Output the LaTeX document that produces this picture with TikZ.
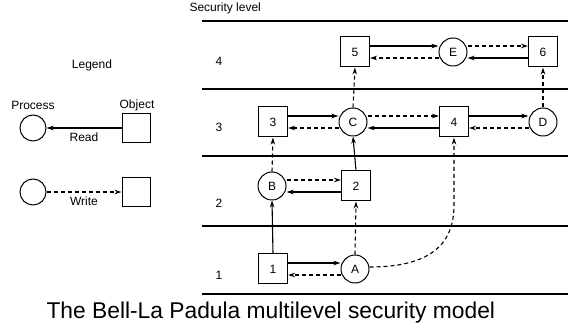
\documentclass[tikz,border=0pt]{standalone}
\usepackage{fontspec}
\setmainfont{Liberation Sans}
\usetikzlibrary{arrows.meta}

\tikzset{
  obj/.style={draw, line width=1pt, minimum width=29pt, minimum height=30pt, inner sep=0pt, font=\fontsize{12}{14}\selectfont},
  proc/.style={draw, circle, line width=1pt, minimum size=28pt, inner sep=0pt, font=\fontsize{12}{14}\selectfont},
  rd/.style={line width=1.1pt, -{Stealth[length=7pt,width=4.5pt]}},
  wr/.style={line width=1.1pt, dashed, dash pattern=on 4pt off 3pt, -{Stealth[length=7pt,width=4.5pt]}},
  lvl/.style={line width=1.6pt},
  lbl/.style={font=\fontsize{12}{14}\selectfont}
}

\begin{document}
\begin{tikzpicture}[x=1pt, y=-1pt]
  \useasboundingbox (0,0) rectangle (568,328);
  \def\lvlA{269};
  \def\lvlB{186};
  \def\lvlC{122};
  \def\lvlD{52};
  \def\off{6};
  % level lines
  \draw[lvl] (202,21) -- (568,21);
  \draw[lvl] (202,89) -- (568,89);
  \draw[lvl] (202,156) -- (568,156);
  \draw[lvl] (202,226) -- (568,226);
  \draw[lvl] (202,294) -- (568,294);
  \node[lbl, anchor=west] (title) at (186,8) {Security level};
  \node[lbl] (l4) at (219,61) {4};
  \node[lbl] (l3) at (219,127) {3};
  \node[lbl] (l2) at (219,203) {2};
  \node[lbl] (l1) at (219,275) {1};
  %
  \node[obj] (o1) at (273,\lvlA) {1};
  \node[proc] (pA) at (355,\lvlA) {A};
  \node[proc] (pB) at (272,\lvlB) {B};
  \node[obj] (o2) at (356,\lvlB) {2};
  \node[obj] (o3) at (273,\lvlC) {3};
  \node[proc] (pC) at (353,\lvlC) {C};
  \node[obj] (o4) at (454,\lvlC) {4};
  \node[proc] (pD) at (543,\lvlC) {D};
  \node[obj] (o5) at (355,\lvlD) {5};
  \node[proc] (pE) at (453,\lvlD) {E};
  \node[obj] (o6) at (543,\lvlD) {6};
  \coordinate (bend) at (454,205);
  % level 1
  \draw[rd] ([yshift=\off]o1.east) -- ([yshift=\off]pA.west);
  \draw[wr] ([yshift=-\off]pA.west) -- ([yshift=-\off]o1.east);
  \draw[rd] (o1.north) -- (pB.south);
  \draw[wr] (pA.north) -- (o2.south);
  \draw[wr] ([yshift=2pt]pA.east) .. controls +(60,0) and +(0,40) .. (bend) -- (o4.south);
  % level 2
  \draw[wr] ([yshift=\off]pB.east) -- ([yshift=\off]o2.west);
  \draw[rd] ([yshift=-\off]o2.west) -- ([yshift=-\off]pB.east);
  \draw[wr] (pB.north) -- (o3.south);
  \draw[rd] (o2.north) -- (pC.south);
  % level 3
  \draw[rd] ([yshift=\off]o3.east) -- ([yshift=\off]pC.west);
  \draw[wr] ([yshift=-\off]pC.west) -- ([yshift=-\off]o3.east);
  \draw[wr] ([yshift=\off]pC.east) -- ([yshift=\off]o4.west);
  \draw[rd] ([yshift=-\off]o4.west) -- ([yshift=-\off]pC.east);
  \draw[rd] ([yshift=\off]o4.east) -- ([yshift=\off]pD.west);
  \draw[wr] ([yshift=-\off]pD.west) -- ([yshift=-\off]o4.east);
  \draw[wr] (pC.north) -- (o5.south);
  \draw[wr] (pD.north) -- (o6.south);
  % level 4
  \draw[rd] ([yshift=\off]o5.east) -- ([yshift=\off]pE.west);
  \draw[wr] ([yshift=-\off]pE.west) -- ([yshift=-\off]o5.east);
  \draw[wr] ([yshift=\off]pE.east) -- ([yshift=\off]o6.west);
  \draw[rd] ([yshift=-\off]o6.west) -- ([yshift=-\off]pE.east);
  % legend
  \node[lbl] (legend) at (92,65) {Legend};
  \node[lbl] (process) at (33,105) {Process};
  \node[lbl] (object) at (137,105) {Object};
  \node[proc, minimum size=26pt] (lp1) at (33,128) {};
  \node[obj, minimum width=28pt, minimum height=29pt] (lo1) at (136,128) {};
  \draw[rd] (lo1.west) -- node[lbl, below=1pt] (read) {Read} (lp1.east);
  \node[proc, minimum size=26pt] (lp2) at (33,192) {};
  \node[obj, minimum width=28pt, minimum height=29pt] (lo2) at (136,192) {};
  \draw[wr] (lp2.east) -- node[lbl, below=1pt] (write) {Write} (lo2.west);
  %
  \node[anchor=west, font=\fontsize{22.8}{27}\selectfont] (caption) at (43,313) {The Bell-La Padula multilevel security model};
\end{tikzpicture}
\end{document}
